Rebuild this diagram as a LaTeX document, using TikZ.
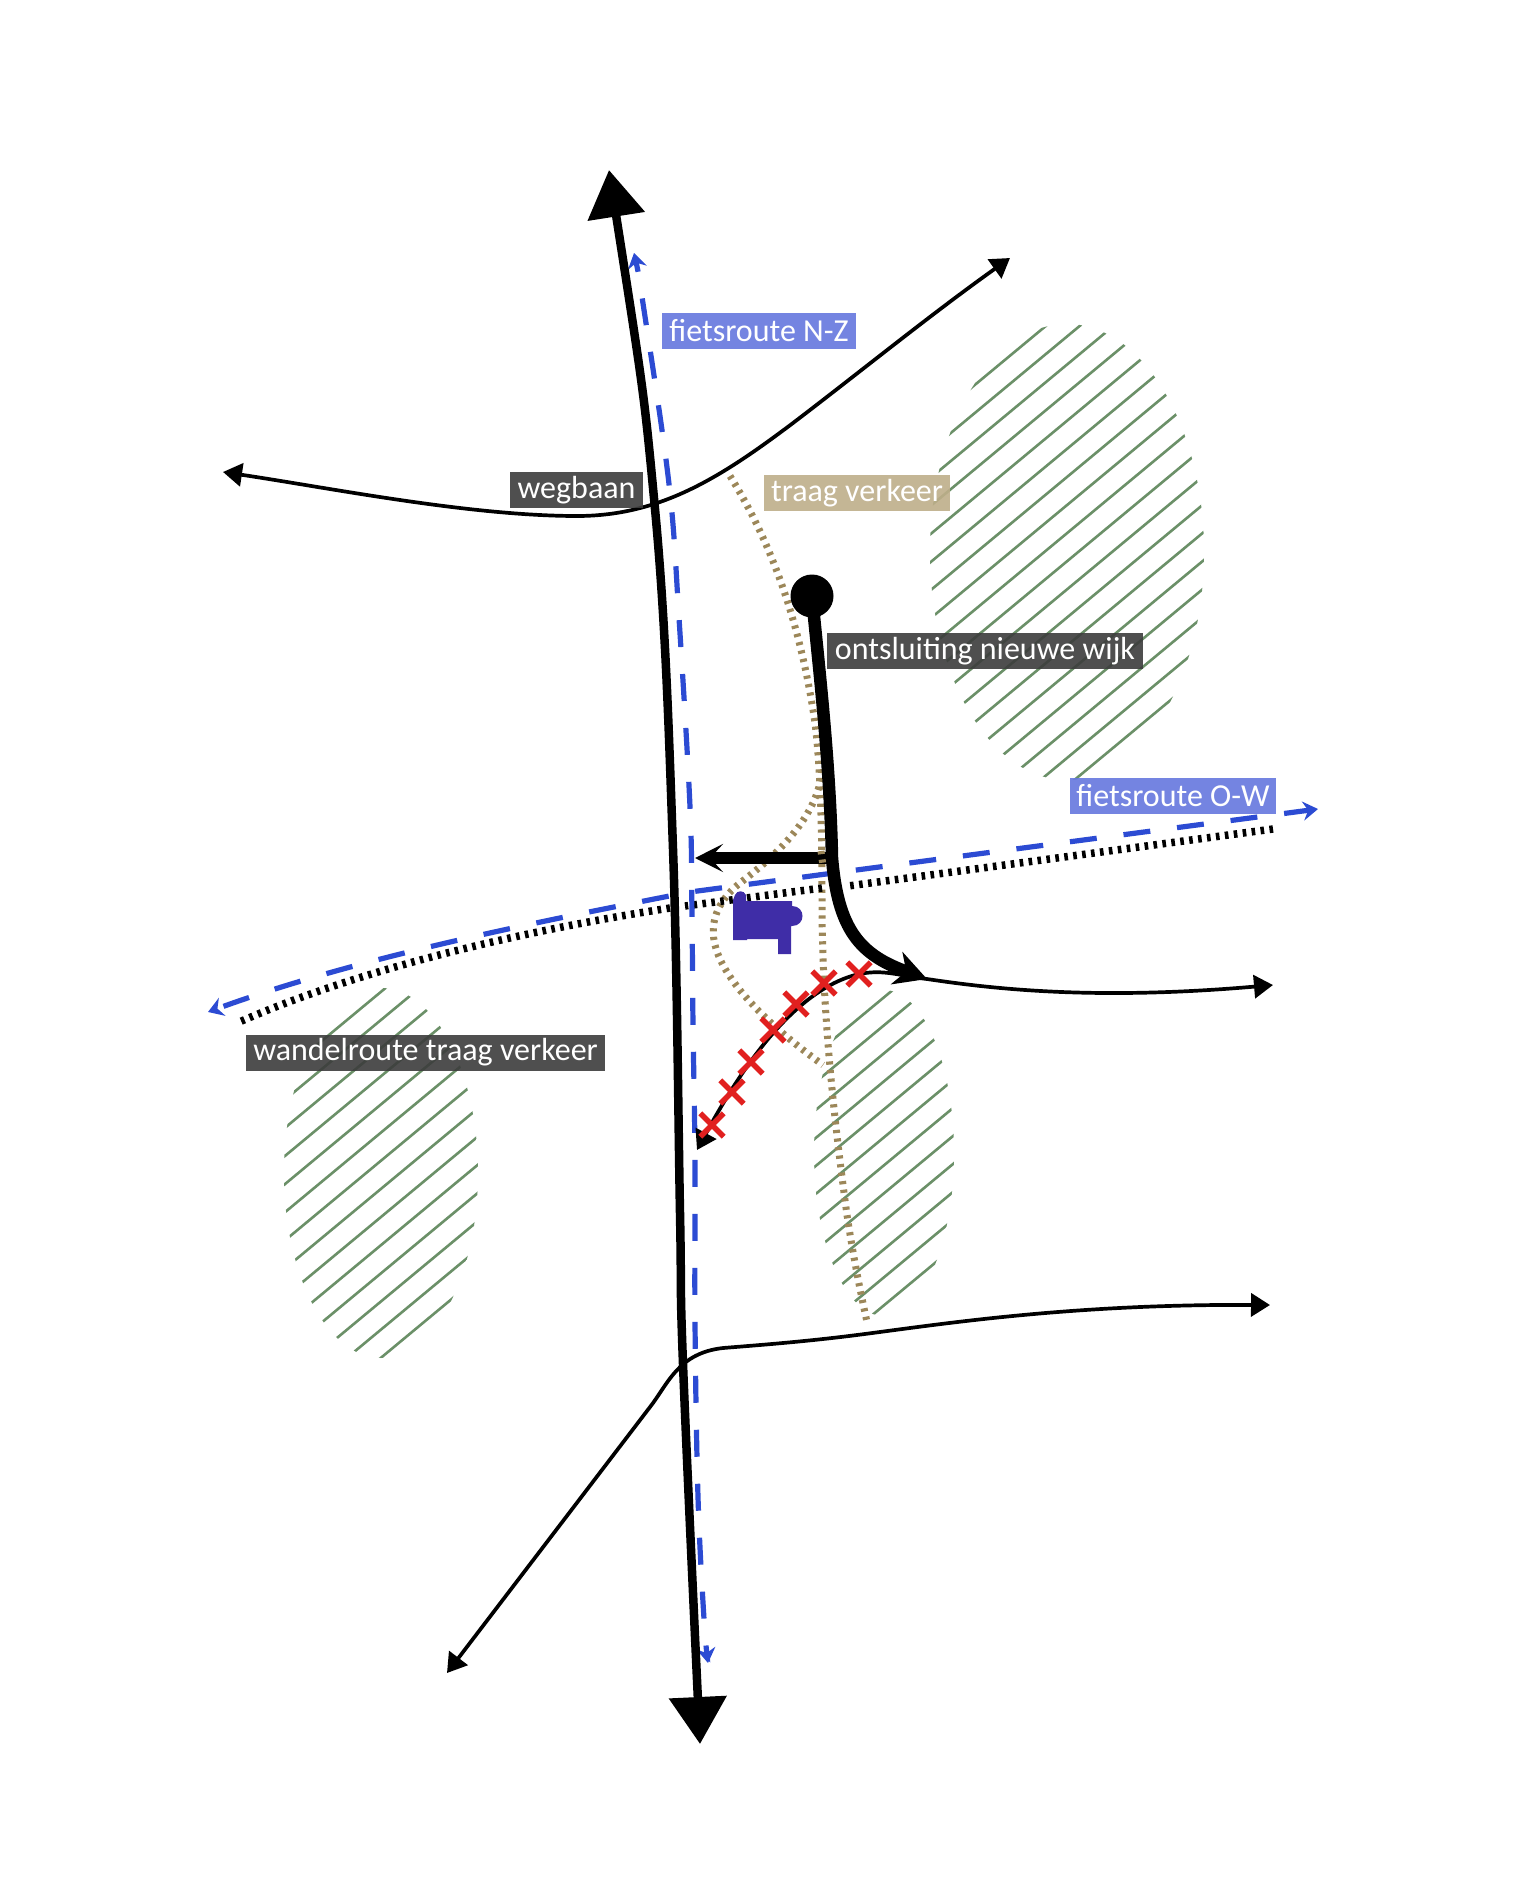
\documentclass[tikz,border=0pt]{standalone}
\usepackage{fontspec}
\setmainfont{Carlito}
\usetikzlibrary{arrows.meta,shapes.misc}
\definecolor{routeblue}{HTML}{2C4BD3}
\definecolor{slowbrown}{HTML}{9C8759}
\definecolor{hatchgreen}{HTML}{6B9068}
\definecolor{labdark}{HTML}{3C3C3C}
\definecolor{labblue}{HTML}{6577DE}
\definecolor{labtan}{HTML}{BEAE8A}
\definecolor{crossred}{HTML}{E1201F}
\definecolor{housepurple}{HTML}{3F2DA7}
\tikzset{
  biketip/.tip={Stealth[length=15pt,width=19pt,inset=5pt]},
  hatchline/.style={draw=hatchgreen,line width=2.6pt},
  mainroad/.style={line width=8.5pt,{Triangle[length=47pt,width=56pt]}-{Triangle[length=47pt,width=56pt]}},
  accessroad/.style={line width=12.5pt,line cap=butt},
  thinroad/.style={line width=3.7pt,{Triangle[length=19pt,width=23pt]}-{Triangle[length=19pt,width=23pt]}},
  bikeroute/.style={draw=routeblue,line width=5.2pt,dash pattern=on 27pt off 27pt},
  walkblack/.style={line width=7.5pt,dash pattern=on 3.6pt off 5.4pt},
  walkbrown/.style={draw=slowbrown,line width=7pt,dash pattern=on 3.2pt off 5.4pt},
  redcross/.style={cross out,draw=crossred,line width=5.4pt,minimum size=18pt,inner sep=0pt},
  roadlabel/.style={fill=labdark,fill opacity=.9,text opacity=1,text=white,font=\fontsize{32}{32}\selectfont,inner sep=0pt,minimum height=36pt},
  bikelabel/.style={roadlabel,fill=labblue},
  slowlabel/.style={roadlabel,fill=labtan},
}
\begin{document}
\begin{tikzpicture}[x=1pt,y=-1pt]
\useasboundingbox (0,0) rectangle (1522,1902);
% hatched areas
\begin{scope}
  \clip (1067,552) ellipse [x radius=137,y radius=228];
  \foreach \k in {0,...,17}{\draw[hatchline] (900,{1194+28.1*\k-.83*900}) -- (1230,{1194+28.1*\k-.83*1230});}
\end{scope}
\begin{scope}
  \clip (381,1173) ellipse [x radius=97,y radius=185];
  \foreach \k in {0,...,13}{\draw[hatchline] (260,{1308+28.15*\k-.83*260}) -- (500,{1308+28.15*\k-.83*500});}
\end{scope}
\begin{scope}
  \clip (884,1153) ellipse [x radius=70,y radius=163];
  \foreach \k in {0,...,11}{\draw[hatchline] (800,{1731+28*\k-.83*800}) -- (970,{1731+28*\k-.83*970});}
\end{scope}
% slow traffic
\draw[walkbrown] (730,476) .. controls (770,540) and (800,620) .. (815,723) .. controls (822,780) and (822,860) .. (822,913) .. controls (823,1000) and (830,1090) .. (847,1215) .. controls (853,1255) and (860,1290) .. (867,1322);
\draw[walkbrown] (822,770) .. controls (818,820) and (770,860) .. (740,883) .. controls (715,903) and (710,925) .. (715,945) .. controls (725,985) and (775,1030) .. (823,1065);
% walking route
\draw[walkblack] (1273,829) -- (848,886);
\draw[walkblack] (822,888) -- (685,906);
\draw[walkblack] (670,908) .. controls (560,925) and (380,960) .. (237,1023);
% cycle routes
\draw[bikeroute,dash phase=17pt,{biketip}-{biketip}] plot[smooth,tension=.6] coordinates {(634,253) (644,310) (669,484) (679,618) (690,807) (692,917) (693,1025) (695,1160) (695,1322) (698,1497) (704,1619) (708,1663)};
\draw[bikeroute,dash phase=2pt,{biketip}-{biketip}] (1318,809) -- (690,892) .. controls (520,925) and (350,960) .. (208,1012);
% roads
\draw[thinroad] (223,472) .. controls (330,488) and (470,516) .. (577,516) .. controls (660,516) and (720,478) .. (793,423) .. controls (860,372) and (930,315) .. (1010,258);
\draw[thinroad] (447,1673) -- (650,1407) .. controls (668,1384) and (678,1353) .. (723,1348) .. controls (760,1345) and (800,1342) .. (849,1336) .. controls (930,1326) and (1060,1304) .. (1270,1305);
\draw[thinroad] (697,1150) .. controls (735,1080) and (790,990) .. (859,974) .. controls (885,969) and (900,976) .. (927,979) .. controls (1000,990) and (1100,1000) .. (1273,985);
\draw[mainroad] plot[smooth,tension=.6] coordinates {(609,170) (655,509) (673,849) (680,1213) (683,1364) (700,1744)};
% access road
\node[circle,fill=black,minimum size=43pt,inner sep=0pt] (hub) at (812,596) {};
\coordinate (junction) at (832,858);
\coordinate (westtip) at (695,858);
\coordinate (easttip) at (927,979);
\draw[accessroad,-{Stealth[length=32pt,width=34pt,inset=10pt]}] (hub.center) .. controls (818,660) and (830,760) .. (junction) .. controls (838,930) and (860,955) .. (easttip);
\draw[accessroad,-{Stealth[length=28pt,width=28pt,inset=13pt]}] (junction) -- (westtip);
\draw[walkbrown] (821,851) -- (823,866);
% building
\fill[housepurple] (733,940) -- (733,900) -- (735,895) .. controls (737,890) and (744,890) .. (746,895) -- (746,901) -- (792,901) -- (792,906) .. controls (806,906) and (806,926) .. (792,926) -- (791,926) -- (791,954) -- (778,954) -- (778,939) -- (747,939) -- (747,940) -- cycle;
% crosses
\node[redcross] (c1) at (712,1125) {};
\node[redcross] (c2) at (732,1092) {};
\node[redcross] (c3) at (751,1062) {};
\node[redcross] (c4) at (773,1030) {};
\node[redcross] (c5) at (796,1004) {};
\node[redcross] (c6) at (824,983) {};
\node[redcross] (c7) at (859,974) {};
% labels
\node[roadlabel,minimum width=133pt] (lweg) at (576.5,490) {wegbaan};
\node[bikelabel,minimum width=194pt] (lnz) at (759,330.5) {fietsroute N-Z};
\node[slowlabel,minimum width=186pt] (ltraag) at (857,493) {traag verkeer};
\node[roadlabel,minimum width=316pt] (lont) at (985,651) {ontsluiting nieuwe wijk};
\node[bikelabel,minimum width=206pt] (low) at (1173,796) {fietsroute O-W};
\node[roadlabel,minimum width=359pt] (lwan) at (425.5,1052.5) {wandelroute traag verkeer};
\end{tikzpicture}
\end{document}
